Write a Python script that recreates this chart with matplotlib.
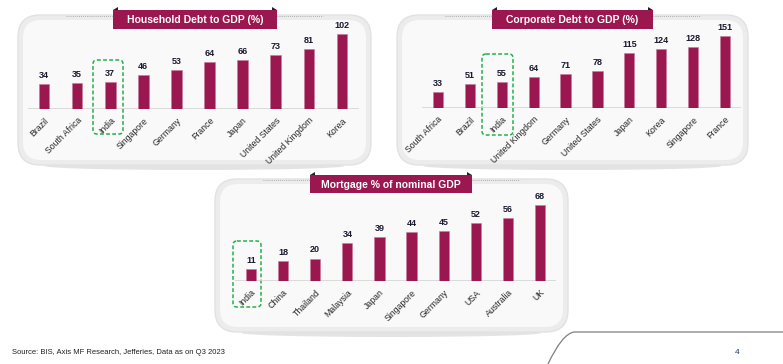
import matplotlib
matplotlib.use("Agg")
import matplotlib.pyplot as plt
from matplotlib.patches import FancyBboxPatch, Rectangle, Polygon, Ellipse
from matplotlib.path import Path
from matplotlib.patches import PathPatch

plt.rcParams['font.family'] = ['Liberation Sans', 'DejaVu Sans']

# data
hh_countries = ['Brazil', 'South Africa', 'India', 'Singapore', 'Germany', 'France',
                'Japan', 'United States', 'United Kingdom', 'Korea']
hh_values = [34, 35, 37, 46, 53, 64, 66, 73, 81, 102]

corp_countries = ['South Africa', 'Brazil', 'India', 'United Kingdom', 'Germany',
                  'United States', 'Japan', 'Korea', 'Singapore', 'France']
corp_values = [33, 51, 55, 64, 71, 78, 115, 124, 128, 151]

mort_countries = ['India', 'China', 'Thailand', 'Malaysia', 'Japan', 'Singapore',
                  'Germany', 'USA', 'Australia', 'UK']
mort_values = [11, 18, 20, 34, 39, 44, 45, 52, 56, 68]

titles = ['Household Debt to GDP (%)', 'Corporate Debt to GDP (%)', 'Mortgage % of nominal GDP']

BAR = '#9b1750'
W, H = 783, 364

fig = plt.figure(figsize=(W / 100, H / 100), dpi=100)

# background layer in pixel coords
bg = fig.add_axes([0, 0, 1, 1], zorder=-10)
bg.set_xlim(0, W)
bg.set_ylim(H, 0)
bg.axis('off')


def panel(x0, y0, x1, y1, bx0, bx1, by0, by1, title):
    # soft shadow under the panel
    bg.add_patch(Ellipse(((x0 + x1) / 2, y1 + 1), (x1 - x0) * 0.85, 8,
                         facecolor='#c8c8c8', edgecolor='none', alpha=0.5))
    bg.add_patch(FancyBboxPatch((x0, y0), x1 - x0, y1 - y0,
                                boxstyle='round,pad=0,rounding_size=22',
                                facecolor='#ececec', edgecolor='#e2e2e2', lw=1))
    bg.add_patch(FancyBboxPatch((x0 + 5, y0 + 5), x1 - x0 - 10, y1 - y0 - 10,
                                boxstyle='round,pad=0,rounding_size=18',
                                facecolor='#f9f9f9', edgecolor='none'))
    # dotted line along the top
    bg.plot([x0 + 48, bx0], [y0 + 1, y0 + 1], ls=(0, (1, 1.5)), color='#9a9a9a', lw=0.6)
    bg.plot([bx1, x1 - 48], [y0 + 1, y0 + 1], ls=(0, (1, 1.5)), color='#9a9a9a', lw=0.6)
    # banner
    bg.add_patch(Rectangle((bx0, by0), bx1 - bx0, by1 - by0, facecolor=BAR, edgecolor='none'))
    bg.add_patch(Polygon([[bx0, by0], [bx0 + 5, by0 - 3], [bx0 + 5, by0]], closed=True,
                         facecolor='#222222', edgecolor='none'))
    bg.add_patch(Polygon([[bx1, by0], [bx1 - 5, by0 - 3], [bx1 - 5, by0]], closed=True,
                         facecolor='#222222', edgecolor='none'))
    bg.text((bx0 + bx1) / 2, (by0 + by1) / 2 + 0.5, title, color='white', fontsize=7.5,
            fontweight='bold', ha='center', va='center')


panel(18, 15, 371, 165, 113, 277, 10, 29, titles[0])
panel(397, 15, 748, 165, 492, 653, 10, 29, titles[1])
panel(215, 179, 568, 332, 310, 472, 175, 193, titles[2])

# green dashed highlight boxes around India
for (hx0, hy0, hx1, hy1) in [(93, 60, 123, 134), (482, 54, 513, 135), (233, 241, 261, 307)]:
    bg.add_patch(FancyBboxPatch((hx0, hy0), hx1 - hx0, hy1 - hy0,
                                boxstyle='round,pad=0,rounding_size=4',
                                facecolor='none', edgecolor='#22b14c', lw=1.1,
                                ls=(0, (2.5, 1.5)), zorder=5))

# footer
bg.text(12, 352, 'Source: BIS, Axis MF Research, Jefferies, Data as on Q3 2023',
        fontsize=5.5, color='#222222', ha='left', va='center')
bg.text(737, 353, '4', fontsize=6, color='#1f3864', ha='center', va='center')
verts = [(548, 364), (560, 340), (564, 332), (574, 332), (783, 332)]
codes = [Path.MOVETO, Path.CURVE3, Path.CURVE3, Path.LINETO, Path.LINETO]
verts = [(548, 364), (562, 334), (574, 332), (783, 332)]
codes = [Path.MOVETO, Path.CURVE3, Path.CURVE3, Path.LINETO]
bg.add_patch(PathPatch(Path(verts, codes), facecolor='none', edgecolor='#7f7f7f', lw=0.9))


def bars(left, spacing, baseline, top, scale, cats, vals):
    n = len(cats)
    width = spacing * n
    ax = fig.add_axes([left / W, 1 - baseline / H, width / W, (baseline - top) / H])
    ax.set_xlim(-0.5, n - 0.5)
    ax.set_ylim(0, (baseline - top) / scale)
    x = list(range(n))
    ax.bar(x, vals, width=0.32, color=BAR, edgecolor='#c77a9a', linewidth=0.4, zorder=3)
    for xi, v in zip(x, vals):
        ax.annotate(str(v), (xi, v), xytext=(0, 3), textcoords='offset points',
                    ha='center', va='bottom', fontsize=6.5, fontweight='bold',
                    color='#1a1a2e')
    ax.axhline(0, color='#d4d4d4', lw=1.2, zorder=2)
    ax.set_xticks(x)
    ax.set_xticklabels(cats, rotation=45, ha='right', rotation_mode='anchor',
                       fontsize=6.3, color='#262626')
    ax.tick_params(axis='x', length=0, pad=5)
    ax.set_yticks([])
    for s in ax.spines.values():
        s.set_visible(False)
    ax.patch.set_alpha(0)
    ax.set_clip_on(False)
    return ax


bars(27.5, 33.1, 109, 22, 75 / 102, hh_countries, hh_values)
bars(422, 31.9, 108, 22, 72 / 151, corp_countries, corp_values)
bars(235, 32.1, 281, 196, 76 / 68, mort_countries, mort_values)

fig.savefig('out.png', dpi=100)
